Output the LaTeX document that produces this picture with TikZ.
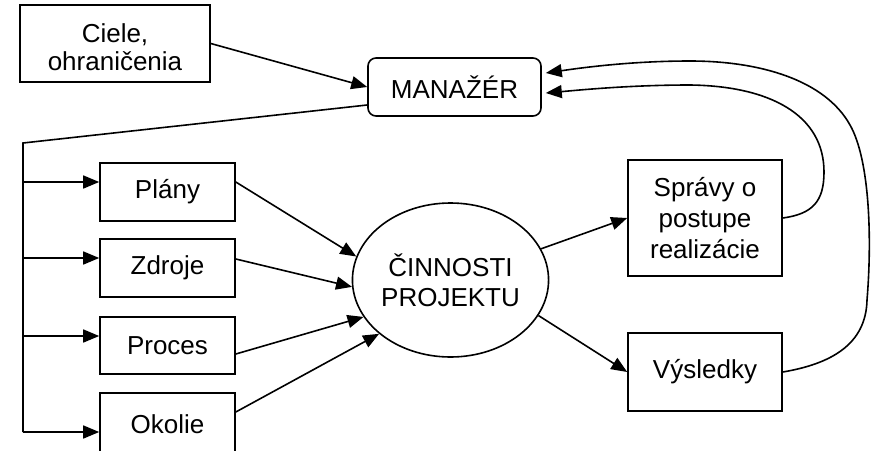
\documentclass[tikz,border=0pt]{standalone}
\usepackage{fontspec}
\setmainfont{Liberation Sans}
\usetikzlibrary{arrows.meta,shapes.geometric,calc}
\begin{document}
\begin{tikzpicture}[x=1pt,y=-1pt,
  every node/.style={font=\fontsize{26}{30}\selectfont, align=center, inner sep=0pt},
  box/.style={draw, line width=1.6pt, minimum width=#1, rectangle},
  box/.default=135pt,
  lin/.style={line width=1.6pt},
  arr/.style={line width=1.6pt, -{Triangle[length=16pt,width=13pt]}}]
\useasboundingbox (0,0) rectangle (877,450);
\clip (0,0) rectangle (877,450);

\node[box=190pt, minimum height=77pt] (ciele) at (115,43.5) {\raisebox{-7pt}[\height][\depth]{\fontsize{26}{28}\selectfont\begin{tabular}{@{}c@{}}Ciele,\\ohraničenia\end{tabular}}};
\node[box=173pt, minimum height=58pt, rounded corners=8pt] (man) at (454.5,87) {MANAŽÉR};
\node[box, minimum height=58pt] (plany) at (167.5,192) {Plány};
\node[box, minimum height=58pt] (zdroje) at (167.5,268) {Zdroje};
\node[box, minimum height=57pt] (proces) at (167.5,345.5) {Proces};
\node[box, minimum height=62pt] (okolie) at (167.5,424) {Okolie};
\node[draw, ellipse, line width=1.6pt, minimum width=193pt, minimum height=154pt] (act) at (450.5,280) {ČINNOSTI\\PROJEKTU};
\node[box=154pt, minimum height=116pt, font=\fontsize{26}{31}\selectfont] (sprav) at (705,218) {Správy o\\postupe\\realizácie};
\node[box=154pt, minimum height=78pt] (vysl) at (705,372) {Výsledky};

% Ciele -> manager
\draw[arr] (ciele.east) -- (man.west);

% manager -> left bus
\coordinate (corner) at (23,143);
\coordinate (pA) at ([yshift=10pt]plany.west);
\coordinate (zA) at ([yshift=10pt]zdroje.west);
\coordinate (rA) at ([yshift=9.5pt]proces.west);
\coordinate (oA) at ([yshift=-8pt]okolie.west);
\draw[lin] ([yshift=-18pt]man.west) -- (corner) -- (corner |- oA);
\draw[arr] (corner |- pA) -- (pA);
\draw[arr] (corner |- zA) -- (zA);
\draw[arr] (corner |- rA) -- (rA);
\draw[arr] (corner |- oA) -- (oA);

% inputs -> activities
\draw[arr] ([yshift=10pt]plany.east) -- (act.166);
\draw[arr] ([yshift=9pt]zdroje.east) -- (act.184);
\draw[arr] ([yshift=-8.5pt]proces.east) -- (act.203);
\draw[arr] ([yshift=12pt]okolie.east) -- (act.217);

% activities -> outputs
\draw[arr] (act.19.5) -- (sprav.west);
\draw[arr] (act.338) -- (vysl.west);

% feedback loops
\draw[arr] (sprav.east) .. controls (812,214) and (824,202) .. (824,172)
  .. controls (824,115) and (770,86) .. (690,85)
  .. controls (630,85) and (580,90) .. ([xshift=4pt,yshift=-6pt]man.east);
\draw[arr] (vysl.east) .. controls (830,364) and (866,345) .. (867,300)
  .. controls (872,240) and (870,160) .. (850,125)
  .. controls (825,80) and (760,61) .. (690,61)
  .. controls (630,61) and (580,68) .. ([xshift=4pt,yshift=14pt]man.east);
\end{tikzpicture}
\end{document}
